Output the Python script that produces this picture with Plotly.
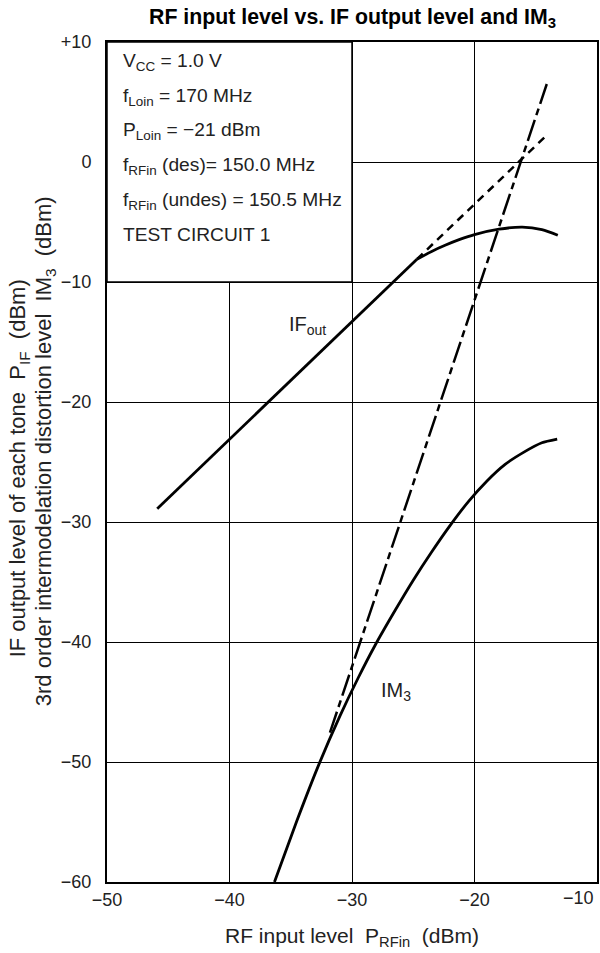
import plotly.graph_objects as go

# ---------------- data ----------------
x_ticks = [-50, -40, -30, -20, -10]
x_tick_labels = ["\u221250", "\u221240", "\u221230", "\u221220", "\u221210"]
y_ticks = [10, 0, -10, -20, -30, -40, -50, -60]
y_tick_labels = ["+10", "0", "\u221210", "\u221220", "\u221230", "\u221240", "\u221250", "\u221260"]

# IF output (linear region)
if_lin_x = [-45.9, -24.7]
if_lin_y = [-28.9, -8.1]
# IF output (compression region)
if_cmp_x = [-24.7, -23.5, -22.4, -21.2, -20.0, -18.0, -16.1, -14.5, -13.2]
if_cmp_y = [-8.1, -7.45, -6.94, -6.45, -6.05, -5.6, -5.42, -5.63, -6.1]
# IF output extrapolation (slope 1)
if_ext_x = [-24.7, -14.2]
if_ext_y = [-8.1, 2.14]

# IM3 measured
im3_x = [-36.33, -34.5, -32.7, -31.0, -29.5, -28.1, -26.5, -25.0, -23.5, -22.0,
         -20.5, -19.0, -17.5, -16.0, -14.5, -13.25]
im3_y = [-60.0, -54.9, -50.2, -46.2, -43.0, -40.25, -37.4, -34.85, -32.5, -30.3,
         -28.3, -26.6, -25.2, -24.2, -23.4, -23.1]
# IM3 extrapolation (slope 3)
im3_ext_x = [-31.8, -14.1]
im3_ext_y = [-47.55, 6.5]

info_lines = [
    "V<sub>CC</sub> = 1.0 V",
    "f<sub>Loin</sub> = 170 MHz",
    "P<sub>Loin</sub> = \u221221 dBm",
    "f<sub>RFin</sub> (des)= 150.0 MHz",
    "f<sub>RFin</sub> (undes) = 150.5 MHz",
    "TEST CIRCUIT 1",
]

FONT = "Liberation Sans, Arial, sans-serif"
TXT = "#222222"

fig = go.Figure()

fig.add_trace(go.Scatter(x=if_lin_x, y=if_lin_y, mode="lines",
                         line=dict(color="black", width=2.8), showlegend=False))
fig.add_trace(go.Scatter(x=if_cmp_x, y=if_cmp_y, mode="lines",
                         line=dict(color="black", width=2.8, shape="spline", smoothing=0.8),
                         showlegend=False))
fig.add_trace(go.Scatter(x=if_ext_x, y=if_ext_y, mode="lines",
                         line=dict(color="black", width=2.5, dash="8px,6px"), showlegend=False))
fig.add_trace(go.Scatter(x=im3_x, y=im3_y, mode="lines",
                         line=dict(color="black", width=2.8, shape="spline", smoothing=0.6),
                         showlegend=False))
fig.add_trace(go.Scatter(x=im3_ext_x, y=im3_ext_y, mode="lines",
                         line=dict(color="black", width=2.5, dash="22px,5px,7px,5px"),
                         showlegend=False))

# white info box covering the grid in the upper-left cell block
fig.add_shape(type="rect", x0=-50, x1=-30, y0=-10, y1=10, xref="x", yref="y",
              fillcolor="white", line=dict(color="black", width=1.5), layer="above")

line_y = [8.33, 5.45, 2.55, -0.35, -3.22, -6.08]
for txt, yy in zip(info_lines, line_y):
    fig.add_annotation(x=-48.88, y=yy, xref="x", yref="y", text=txt, showarrow=False,
                       xanchor="left", yanchor="middle",
                       font=dict(family=FONT, size=19.2, color=TXT))

# curve labels
fig.add_annotation(x=-35.3, y=-13.6, xref="x", yref="y", text="IF<sub>out</sub>", showarrow=False,
                   xanchor="left", yanchor="middle", font=dict(family=FONT, size=20, color=TXT))
fig.add_annotation(x=-27.83, y=-44.1, xref="x", yref="y", text="IM<sub>3</sub>", showarrow=False,
                   xanchor="left", yanchor="middle", font=dict(family=FONT, size=20, color=TXT))

# title
fig.add_annotation(x=0.5, y=1.0 + 24 / 840, xref="paper", yref="paper",
                   text="<b>RF input level vs. IF output level and IM<sub>3</sub></b>",
                   showarrow=False, xanchor="center", yanchor="middle",
                   font=dict(family=FONT, size=21.3, color="black"))

# last x tick label sits flush with the right edge, as in the reference
fig.add_annotation(x=x_ticks[-1], y=-(898 - 882) / 840, xref="x", yref="paper",
                   text=x_tick_labels[-1], showarrow=False, xanchor="right", yanchor="middle",
                   xshift=-1, font=dict(family=FONT, size=18, color=TXT))

# axis titles
fig.add_annotation(x=0.5, y=-(936.7 - 882) / 840, xref="paper", yref="paper",
                   text="RF input level\u00a0\u00a0P<sub>RFin</sub>\u00a0\u00a0(dBm)",
                   showarrow=False, xanchor="center", yanchor="middle",
                   font=dict(family=FONT, size=21, color=TXT))
fig.add_annotation(x=(19 - 107) / 492, y=(882 - 468) / 840, xref="paper", yref="paper",
                   text="IF output level of each tone\u00a0\u00a0P<sub>IF</sub>\u00a0\u00a0(dBm)",
                   textangle=-90, showarrow=False, xanchor="center", yanchor="middle",
                   font=dict(family=FONT, size=22, color=TXT))
fig.add_annotation(x=(45 - 107) / 492, y=(882 - 451) / 840, xref="paper", yref="paper",
                   text="3rd order intermodelation distortion level\u00a0\u00a0IM<sub>3</sub>\u00a0\u00a0(dBm)",
                   textangle=-90, showarrow=False, xanchor="center", yanchor="middle",
                   font=dict(family=FONT, size=22, color=TXT))

axis_common = dict(showgrid=True, gridcolor="black", gridwidth=1.3, zeroline=False,
                   showline=True, linecolor="black", linewidth=2, mirror=True,
                   ticks="", tickfont=dict(family=FONT, size=18, color=TXT))

fig.update_layout(
    width=600, height=953,
    margin=dict(l=107, r=1, t=42, b=71),
    paper_bgcolor="white", plot_bgcolor="white",
    xaxis=dict(range=[-50, -10], tickvals=x_ticks, ticktext=x_tick_labels[:-1] + [""],
               ticklabelstandoff=0, **axis_common),
    yaxis=dict(range=[-60, 10], tickvals=y_ticks, ticktext=y_tick_labels,
               ticklabelstandoff=10, **axis_common),
    showlegend=False,
)

# remove the default 8px page margin so the 600x953 figure fills the window exactly
fig.write_html(
    "out.html",
    config={"displayModeBar": False},
    post_script="document.documentElement.style.margin='0';document.body.style.margin='0';"
                "document.body.style.overflow='hidden';document.documentElement.style.overflow='hidden';",
)
